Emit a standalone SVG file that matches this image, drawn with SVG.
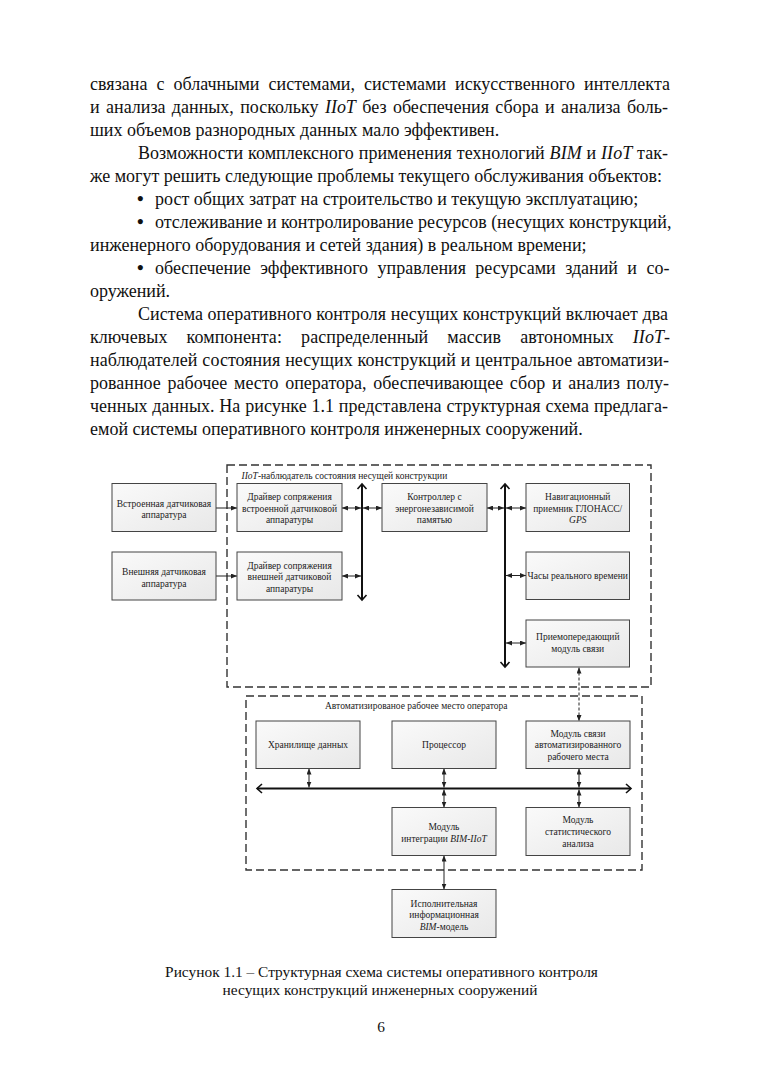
<svg xmlns="http://www.w3.org/2000/svg" width="763" height="1080" viewBox="0 0 763 1080">
<style>
.b{font-family:"Liberation Serif","Times New Roman",serif;font-size:18px;fill:#111}
.bul{font-size:19px;font-weight:bold}
.i{font-style:italic}
.s{font-family:"Liberation Serif","Times New Roman",serif;font-size:9.5px;fill:#222;text-anchor:middle}
.t{font-family:"Liberation Serif","Times New Roman",serif;font-size:9.5px;fill:#222}
.cap{font-family:"Liberation Serif","Times New Roman",serif;font-size:15.4px;fill:#111;text-anchor:middle}
.box{fill:url(#g);stroke:#444;stroke-width:1}
.grp{fill:none;stroke:#333;stroke-width:1.4;stroke-dasharray:8 4}
.cb{fill:none;stroke:#222;stroke-width:1;marker-start:url(#ah);marker-end:url(#ah)}
.c1{fill:none;stroke:#222;stroke-width:1;marker-end:url(#ah)}
.bus{fill:none;stroke:#111;stroke-width:2;marker-start:url(#chev);marker-end:url(#chev)}
.dl{fill:none;stroke:#222;stroke-width:1;stroke-dasharray:3 2;marker-start:url(#ah);marker-end:url(#ah)}
</style>
<defs>
<linearGradient id="g" x1="0" y1="0" x2="1" y2="1">
<stop offset="0" stop-color="#fafafa"/>
<stop offset="1" stop-color="#e8e8e8"/>
</linearGradient>
<marker id="ah" viewBox="0 0 6 5" refX="6" refY="2.5" markerWidth="6" markerHeight="5" markerUnits="userSpaceOnUse" orient="auto-start-reverse">
<path d="M0,0 L6,2.5 L0,5 z" fill="#222"/>
</marker>
<marker id="chev" viewBox="-7 -6 9 12" refX="0" refY="0" markerWidth="9" markerHeight="12" markerUnits="userSpaceOnUse" orient="auto-start-reverse">
<path d="M-5,-4.5 L0,0 L-5,4.5" fill="none" stroke="#111" stroke-width="1.6"/>
</marker>
</defs>
<rect width="763" height="1080" fill="#fff"/>

<g id="body-text">
<text class="b" x="90" y="89.5" word-spacing="4.4" textLength="580" lengthAdjust="spacing">связана с облачными системами, системами искусственного интеллекта</text>
<text class="b" x="90" y="112.5" word-spacing="1.9" textLength="578" lengthAdjust="spacing">и анализа данных, поскольку <tspan class="i">IIoT</tspan> без обеспечения сбора и анализа боль-</text>
<text class="b" x="90" y="135.5">ших объемов разнородных данных мало эффективен.</text>
<text class="b" x="138" y="158.5" word-spacing="0.3" textLength="530" lengthAdjust="spacing">Возможности комплексного применения технологий <tspan class="i">BIM</tspan> и <tspan class="i">IIoT</tspan> так-</text>
<text class="b" x="90" y="181.5">же могут решить следующие проблемы текущего обслуживания объектов:</text>
<text class="b" x="137" y="204.5"><tspan class="bul">•</tspan><tspan x="155">рост общих затрат на строительство и текущую эксплуатацию;</tspan></text>
<text class="b" x="137" y="227.5"><tspan class="bul">•</tspan><tspan x="155">отслеживание и контролирование ресурсов (несущих конструкций,</tspan></text>
<text class="b" x="90" y="250.5">инженерного оборудования и сетей здания) в реальном времени;</text>
<text class="b" x="137" y="273.5" word-spacing="4.9"><tspan class="bul">•</tspan><tspan x="155">обеспечение эффективного управления ресурсами зданий и со-</tspan></text>
<text class="b" x="90" y="296.5">оружений.</text>
<text class="b" x="138" y="319.5" textLength="530" lengthAdjust="spacing">Система оперативного контроля несущих конструкций включает два</text>
<text class="b" x="90" y="342.5" word-spacing="14.6" textLength="580" lengthAdjust="spacing">ключевых компонента: распределенный массив автономных <tspan class="i">IIoT</tspan>-</text>
<text class="b" x="90" y="365.5" word-spacing="0.3" textLength="579" lengthAdjust="spacing">наблюдателей состояния несущих конструкций и центральное автоматизи-</text>
<text class="b" x="90" y="388.5" word-spacing="2.2" textLength="579" lengthAdjust="spacing">рованное рабочее место оператора, обеспечивающее сбор и анализ полу-</text>
<text class="b" x="90" y="411.5" word-spacing="0.3" textLength="578" lengthAdjust="spacing">ченных данных. На рисунке 1.1 представлена структурная схема предлага-</text>
<text class="b" x="90" y="434.5">емой системы оперативного контроля инженерных сооружений.</text>
</g>

<g id="group-iiot">
<rect class="grp" x="227" y="465" width="424" height="222"/>
<text class="t" x="241.5" y="478.5"><tspan class="i">IIoT</tspan>-наблюдатель состояния несущей конструкции</text>
</g>
<g id="group-arm">
<rect class="grp" x="246" y="696" width="396" height="174"/>
<text class="t" x="325" y="708.5">Автоматизированое рабочее место оператора</text>
</g>

<g id="connectors">
<path class="c1" d="M216,508 H237"/>
<path class="c1" d="M216,576 H237"/>
<path class="cb" d="M342,508 H361"/>
<path class="cb" d="M363,508 H382"/>
<path class="cb" d="M342,576 H361"/>
<path class="cb" d="M487,508 H504"/>
<path class="cb" d="M506,508 H526"/>
<path class="cb" d="M506,575.5 H526"/>
<path class="cb" d="M506,643 H526"/>
<path class="bus" d="M362,484 V600"/>
<path class="bus" d="M505,484 V667"/>
<path class="dl" d="M579,667.5 V721"/>
<path class="bus" d="M257,788.5 H631"/>
<path class="cb" d="M309,768.5 V787.5"/>
<path class="cb" d="M444,768.5 V787.5"/>
<path class="cb" d="M444,789.5 V807.5"/>
<path class="cb" d="M579,768.5 V787.5"/>
<path class="cb" d="M579,789.5 V807.5"/>
<path class="cb" d="M444,855.5 V889.5"/>
</g>

<g id="n-ext1">
<rect class="box" x="112" y="483.5" width="104" height="48"/>
<text class="s" x="164" y="506.5">Встроенная датчиковая</text>
<text class="s" x="164" y="518">аппаратура</text>
</g>
<g id="n-ext2">
<rect class="box" x="112" y="552" width="104" height="48"/>
<text class="s" x="164" y="575">Внешняя датчиковая</text>
<text class="s" x="164" y="586.5">аппаратура</text>
</g>
<g id="n-drv1">
<rect class="box" x="237" y="483.5" width="105" height="48"/>
<text class="s" x="289.5" y="500">Драйвер сопряжения</text>
<text class="s" x="289.5" y="511.5">встроенной датчиковой</text>
<text class="s" x="289.5" y="523">аппаратуры</text>
</g>
<g id="n-drv2">
<rect class="box" x="237" y="552" width="105" height="48"/>
<text class="s" x="289.5" y="568.5">Драйвер сопряжения</text>
<text class="s" x="289.5" y="580">внешней датчиковой</text>
<text class="s" x="289.5" y="591.5">аппаратуры</text>
</g>
<g id="n-ctrl">
<rect class="box" x="382" y="483.5" width="105" height="48"/>
<text class="s" x="434.5" y="500">Контроллер с</text>
<text class="s" x="434.5" y="511.5">энергонезависимой</text>
<text class="s" x="434.5" y="523">памятью</text>
</g>
<g id="n-nav">
<rect class="box" x="526" y="483.5" width="103.5" height="48"/>
<text class="s" x="577.75" y="500">Навигационный</text>
<text class="s" x="577.75" y="511.5">приемник ГЛОНАСС/</text>
<text class="s i" x="577.75" y="523">GPS</text>
</g>
<g id="n-clock">
<rect class="box" x="526" y="552" width="103.5" height="47.5"/>
<text class="s" x="577.75" y="579">Часы реального времени</text>
</g>
<g id="n-trx">
<rect class="box" x="526" y="620" width="103.5" height="47"/>
<text class="s" x="577.75" y="640">Приемопередающий</text>
<text class="s" x="577.75" y="651.5">модуль связи</text>
</g>
<g id="n-store">
<rect class="box" x="256" y="721" width="104" height="47.5"/>
<text class="s" x="308" y="747.5">Хранилище данных</text>
</g>
<g id="n-cpu">
<rect class="box" x="392" y="721" width="104" height="47.5"/>
<text class="s" x="444" y="747.5">Процессор</text>
</g>
<g id="n-armcomm">
<rect class="box" x="526" y="721" width="104" height="47.5"/>
<text class="s" x="578" y="736.5">Модуль связи</text>
<text class="s" x="578" y="748">автоматизированного</text>
<text class="s" x="578" y="759.5">рабочего места</text>
</g>
<g id="n-integ">
<rect class="box" x="392" y="807.5" width="104" height="48"/>
<text class="s" x="444" y="830">Модуль</text>
<text class="s" x="444" y="841.5">интеграции <tspan class="i">BIM-IIoT</tspan></text>
</g>
<g id="n-stat">
<rect class="box" x="526" y="807.5" width="104" height="48"/>
<text class="s" x="578" y="823">Модуль</text>
<text class="s" x="578" y="834.5">статистического</text>
<text class="s" x="578" y="846.5">анализа</text>
</g>
<g id="n-bim">
<rect class="box" x="392" y="889.5" width="104" height="48"/>
<text class="s" x="444" y="906.5">Исполнительная</text>
<text class="s" x="444" y="918">информационная</text>
<text class="s" x="444" y="929.5"><tspan class="i">BIM</tspan>-модель</text>
</g>

<g id="caption">
<text class="cap" x="381.5" y="977">Рисунок 1.1 – Структурная схема системы оперативного контроля</text>
<text class="cap" x="380" y="994.5">несущих конструкций инженерных сооружений</text>
<text class="cap" x="381" y="1032">6</text>
</g>
</svg>
